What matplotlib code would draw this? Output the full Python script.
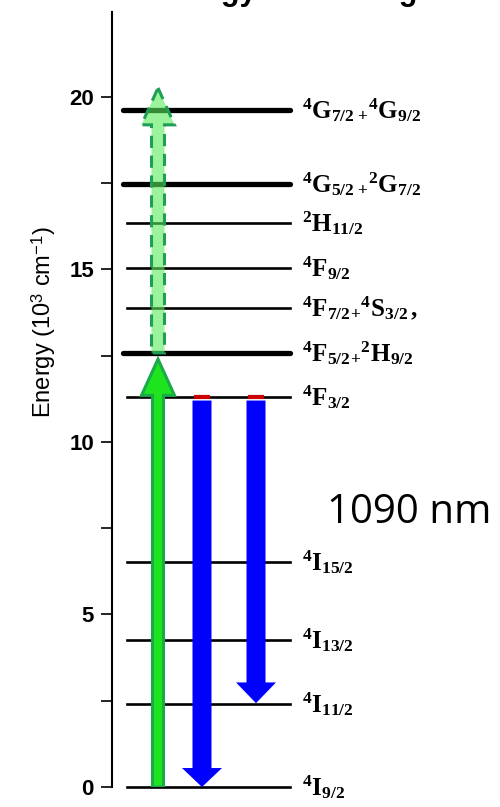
import matplotlib
matplotlib.use("Agg")
import matplotlib.pyplot as plt
from matplotlib.patches import FancyArrow

# ---- data ----
level_names = [r"$^{4}\mathrm{I}_{9/2}$", r"$^{4}\mathrm{I}_{11/2}$", r"$^{4}\mathrm{I}_{13/2}$",
               r"$^{4}\mathrm{I}_{15/2}$", r"$^{4}\mathrm{F}_{3/2}$",
               r"$^{4}\mathrm{F}_{5/2}{}_{+}{}^{2}\mathrm{H}_{9/2}$",
               r"$^{4}\mathrm{F}_{7/2}{}_{+}{}^{4}\mathrm{S}_{3/2}\,,$",
               r"$^{4}\mathrm{F}_{9/2}$", r"$^{2}\mathrm{H}_{11/2}$",
               r"$^{4}\mathrm{G}_{5/2}\,{}_{+}{}^{2}\mathrm{G}_{7/2}$",
               r"$^{4}\mathrm{G}_{7/2}\,{}_{+}{}^{4}\mathrm{G}_{9/2}$"]
level_energy = [0.0, 2.4, 4.26, 6.52, 11.3, 12.58, 13.88, 15.04, 16.35, 17.48, 19.62]
level_thick = [False, False, False, False, False, True, False, False, False, True, True]

pump_from, pump_to = 0.0, 12.4          # solid green absorption
esa_from, esa_to = 12.58, 20.26          # dashed green upconversion
emit_from = 11.2
emit_to = [0.0, 2.43]                    # blue emissions
yticks_major = [0, 5, 10, 15, 20]
yticks_minor = [2.5, 7.5, 12.5, 17.5]

plt.rcParams['mathtext.fontset'] = 'custom'
plt.rcParams['mathtext.rm'] = 'Liberation Serif:bold'
plt.rcParams['mathtext.it'] = 'Liberation Serif:bold'
plt.rcParams['mathtext.bf'] = 'Liberation Serif:bold'

fig = plt.figure(figsize=(5.0, 8.07), dpi=100)
ax = fig.add_axes([112/500, 20/807, 388/500, 775/807])
ax.set_xlim(0, 388)
ax.set_ylim(0, 22.46)
for s in ['top', 'right', 'bottom']:
    ax.spines[s].set_visible(False)
ax.spines['left'].set_linewidth(1.5)
ax.set_xticks([])
ax.set_yticks(yticks_major)
ax.set_yticks(yticks_minor, minor=True)
ax.tick_params(axis='y', which='both', direction='out', length=8, width=1.2, pad=5)
ax.set_yticklabels([str(v) for v in yticks_major], fontsize=16, fontweight='bold',
                   family='Liberation Sans')
ax.set_ylabel(r"Energy (10$^{\mathregular{3}}$ cm$^{\mathregular{-1}}$)", fontsize=17,
              family='Liberation Sans')
ax.yaxis.set_label_coords(-54/388, 0.6)

# levels
for name, e, thick in zip(level_names, level_energy, level_thick):
    if thick:
        ax.plot([11, 178], [e, e], color='black', lw=3.8, solid_capstyle='round', zorder=2,
                clip_on=False)
    else:
        ax.plot([15, 178], [e, e], color='black', lw=1.9, zorder=2, clip_on=False)
    ax.text(190, e, name, fontsize=18, va='center', ha='left')

# dashed upconversion arrow
a2 = FancyArrow(46, esa_from, 0, esa_to - esa_from, width=13, head_width=33,
                head_length=1.07, length_includes_head=True,
                facecolor=(0.35, 0.92, 0.35, 0.6), edgecolor='#1f9e55', lw=2.2,
                linestyle=(0, (4, 2.5)), zorder=4)
ax.add_patch(a2)

# solid pump arrow
a1 = FancyArrow(46, pump_from, 0, pump_to - pump_from, width=11, head_width=33,
                head_length=1.05, length_includes_head=True,
                facecolor='#1ee41e', edgecolor='#1aaa4a', lw=2.2, zorder=4)
ax.add_patch(a1)

# emission arrows
for xc, t in zip([90, 144], emit_to):
    hl = 0.55 if t == 0 else 0.6
    a = FancyArrow(xc, emit_from, 0, t - emit_from, width=19, head_width=40,
                   head_length=hl, length_includes_head=True,
                   facecolor='#0000ff', edgecolor='none', zorder=4)
    ax.add_patch(a)
    ax.plot([xc - 8, xc + 8], [level_energy[4], level_energy[4]], color='#cc0000', lw=3,
            zorder=5, solid_capstyle='butt')

ax.text(215, 7.95, "1090 nm", fontsize=29, family='Open Sans', va='center', ha='left')

# clipped title remnant (only the descenders reach into the figure)
fig.text(153/500, 1.0, "Energy Level Diagram", fontsize=22, fontweight='bold',
         family='Liberation Sans', va='baseline', ha='left')

fig.savefig("out.png", dpi=100)
